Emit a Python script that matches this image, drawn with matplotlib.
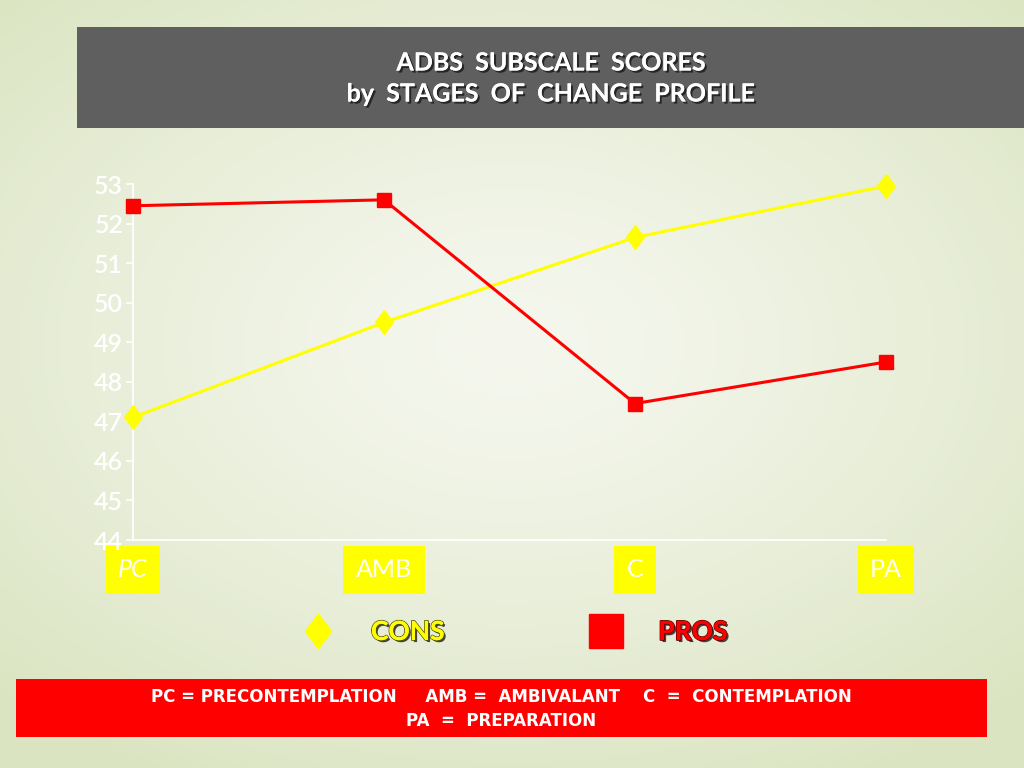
import numpy as np
import matplotlib.pyplot as plt
import matplotlib.patheffects as pe
from matplotlib.patches import Rectangle
from matplotlib.lines import Line2D

# data
stages = ["PC", "AMB", "C", "PA"]
cons = [47.1, 49.5, 51.65, 52.95]
pros = [52.45, 52.6, 47.45, 48.5]
yticks = [44, 45, 46, 47, 48, 49, 50, 51, 52, 53]

# slightly narrow diamond like the slide's marker
diamond = [(0, 1), (0.75, 0), (0, -1), (-0.75, 0), (0, 1)]

fig = plt.figure(figsize=(10.24, 7.68), dpi=100)

# background gradient
bg = fig.add_axes([0, 0, 1, 1], zorder=-10)
gx, gy = np.meshgrid(np.linspace(-1, 1, 256), np.linspace(-1, 1, 192))
r = np.clip(np.sqrt((gx * 0.85) ** 2 + (gy * 0.95 + 0.1) ** 2) / 1.25, 0, 1) ** 1.3
edge = np.array([218, 228, 192]) / 255
center = np.array([245, 247, 238]) / 255
img = center[None, None, :] * (1 - r[..., None]) + edge[None, None, :] * r[..., None]
bg.imshow(img, aspect="auto", extent=[0, 1, 0, 1])
bg.axis("off")

# title box
fig.patches.append(Rectangle((77 / 1024, 1 - 128 / 768), 947 / 1024, 101 / 768,
                             transform=fig.transFigure, facecolor="#5f5f5f",
                             edgecolor="none", zorder=0))
shadow = [pe.withSimplePatchShadow(offset=(1.5, -1.5), shadow_rgbFace="black", alpha=0.6), pe.Normal()]
fig.text(551 / 1024, 1 - 63 / 768, "ADBS  SUBSCALE  SCORES", ha="center", va="center",
         color="white", fontsize=18, fontweight="bold", family="Lato", path_effects=shadow)
fig.text(551 / 1024, 1 - 94 / 768, "by  STAGES  OF  CHANGE  PROFILE", ha="center", va="center",
         color="white", fontsize=18, fontweight="bold", family="Lato", path_effects=shadow)

# main chart
ax = fig.add_axes([133 / 1024, 1 - 540 / 768, 753 / 1024, 356 / 768])
ax.patch.set_alpha(0)
x = np.arange(len(stages))
ax.plot(x, cons, color="#ffff00", lw=2.2, marker=diamond, markersize=17, clip_on=False, zorder=3)
ax.plot(x, pros, color="#ff0000", lw=2.2, marker="s", markersize=10, clip_on=False, zorder=4)
ax.set_xlim(0, 3)
ax.set_ylim(44, 53)
ax.set_yticks(yticks)
ax.set_yticklabels([str(v) for v in yticks], color="white", fontsize=18, family="Lato",
                   fontweight="semibold")
ax.tick_params(axis="y", colors="white", length=5, width=1.2, pad=2, labelcolor="white")
ax.set_xticks(x)
ax.set_xticklabels(stages, color="white", fontsize=18, family="Lato")
ax.tick_params(axis="x", length=0, pad=13)
for lab in ax.get_xticklabels():
    lab.set_bbox(dict(facecolor="#ffff00", edgecolor="none", pad=9))
ax.get_xticklabels()[0].set_style("italic")
for s in ["top", "right"]:
    ax.spines[s].set_visible(False)
for s in ["left", "bottom"]:
    ax.spines[s].set_color("white")
    ax.spines[s].set_linewidth(1.3)

# legend
handles = [Line2D([], [], marker=diamond, color="#ffff00", linestyle="none", markersize=25),
           Line2D([], [], marker="s", color="#ff0000", linestyle="none", markersize=24)]
leg = fig.legend(handles, ["CONS", "PROS"], ncol=2, loc="center left",
                 bbox_to_anchor=(305 / 1024, 1 - 632 / 768), frameon=False,
                 borderaxespad=0, borderpad=0, handlelength=1, handletextpad=1.5,
                 columnspacing=5.6, prop={"family": "Lato", "weight": "bold", "size": 19})
for t, c in zip(leg.get_texts(), ["#ffff00", "#ff0000"]):
    t.set_color(c)
    t.set_path_effects([pe.withSimplePatchShadow(offset=(1.5, -1.5), shadow_rgbFace="#333333", alpha=0.9),
                        pe.withStroke(linewidth=1.2, foreground="#555500" if c == "#ffff00" else "#550000"),
                        pe.Normal()])

# abbreviation box
fig.patches.append(Rectangle((16 / 1024, 1 - 737 / 768), 971 / 1024, 58 / 768,
                             transform=fig.transFigure, facecolor="#ff0000",
                             edgecolor="none", zorder=0))
fig.text(501 / 1024, 1 - 697 / 768,
         "PC = PRECONTEMPLATION     AMB =  AMBIVALANT    C  =  CONTEMPLATION",
         ha="center", va="center", color="white", fontsize=12, fontweight="bold", family="DejaVu Sans")
fig.text(501 / 1024, 1 - 721 / 768, "PA  =  PREPARATION",
         ha="center", va="center", color="white", fontsize=12, fontweight="bold", family="DejaVu Sans")

fig.savefig("out.png", dpi=100)
